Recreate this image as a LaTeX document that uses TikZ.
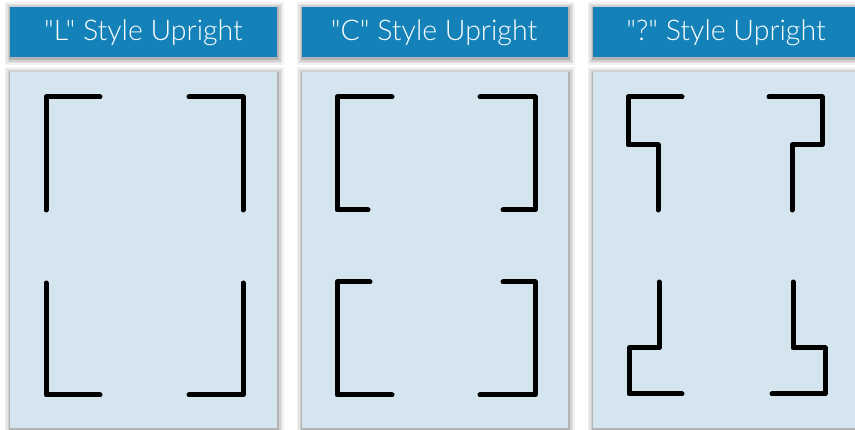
\documentclass[tikz,border=0pt]{standalone}
\usepackage{fontspec}
\setmainfont{Lato}[UprightFont=* Light, Ligatures=TeXOff]
\usetikzlibrary{calc}
\definecolor{hdrblue}{RGB}{20,130,185}
\definecolor{panelblue}{RGB}{213,229,239}
\tikzset{
  hdrtext/.style={text=white, font=\fontsize{28.5}{32}\selectfont, inner sep=0pt},
  bracket/.style={line width=5pt, line cap=round, line join=round, black},
}
\newcommand{\softshadow}[4]{%
  \foreach \e/\o in {6/0.05,4.5/0.06,3/0.08,1.5/0.14}{%
    \fill[black, opacity=\o] ($(#1,#2)+(-\e+0.5,-\e+1.5)$) rectangle ($(#3,#4)+(\e+0.5,\e+2)$);
  }%
}
\begin{document}
\begin{tikzpicture}[x=1pt,y=-1pt]
\useasboundingbox (0,0) rectangle (855,430);
\fill[white] (0,0) rectangle (855,430);
% shadows
\softshadow{10}{7}{277}{57}
\softshadow{302}{7}{568}{57}
\softshadow{593}{7}{862}{57}
\softshadow{10}{72}{277}{428}
\softshadow{302}{72}{568}{428}
\softshadow{593}{72}{862}{428}
% panels
\fill[panelblue] (10,72) rectangle (277,428);
\fill[panelblue] (302,72) rectangle (568,428);
\fill[panelblue] (593,72) rectangle (862,428);
% headers
\fill[hdrblue] (10,7) rectangle (277,57);
\fill[hdrblue] (302,7) rectangle (568,57);
\fill[hdrblue] (593,7) rectangle (862,57);
\node[hdrtext] (h1) at (143.5,33) {"L" Style Upright};
\node[hdrtext] (h2) at (434,33) {"C" Style Upright};
\node[hdrtext] (h3) at (726,33) {"?" Style Upright};
% L style
\draw[bracket] (100,97) -- (46,97) -- (46,210);
\draw[bracket] (189,97) -- (243,97) -- (243,210);
\draw[bracket] (46,283) -- (46,395) -- (100,395);
\draw[bracket] (243,283) -- (243,395) -- (189,395);
% C style
\draw[bracket] (392,97) -- (337,97) -- (337,210) -- (368,210);
\draw[bracket] (480,97) -- (535,97) -- (535,210) -- (503,210);
\draw[bracket] (370,282) -- (337,282) -- (337,395) -- (392,395);
\draw[bracket] (503,282) -- (535,282) -- (535,395) -- (480,395);
% ? style
\draw[bracket] (682,97) -- (628,97) -- (628,145) -- (658,145) -- (658,210);
\draw[bracket] (769,97) -- (822,97) -- (822,145) -- (792,145) -- (792,210);
\draw[bracket] (659,282) -- (659,348) -- (629,348) -- (629,394) -- (682,394);
\draw[bracket] (793,282) -- (793,348) -- (825,348) -- (825,394) -- (772,394);
\end{tikzpicture}
\end{document}
